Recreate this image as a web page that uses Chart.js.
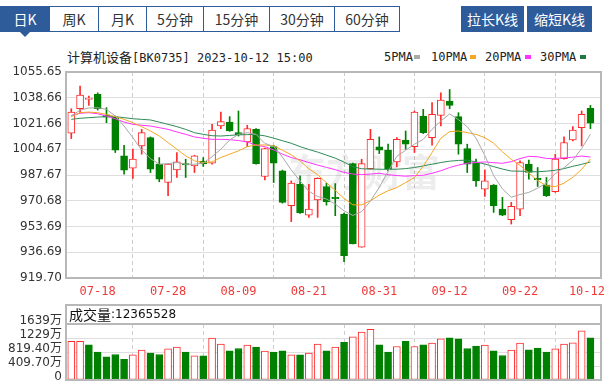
<!DOCTYPE html>
<html>
<head>
<meta charset="utf-8">
<title>计算机设备[BK0735] 日K</title>
<script src="https://cdn.jsdelivr.net/npm/chart.js@4.4.0/dist/chart.umd.min.js"></script>
<style>
  body { margin: 0; width: 607px; height: 385px; background: #fff; position: relative; overflow: hidden;
         font-family: "Noto Sans CJK SC", sans-serif; }
  .tabs { position: absolute; left: 0; top: 6px; height: 24px; display: flex; border: 1px solid #2e5b9a; }
  .tabs div { height: 24px; line-height: 24px; text-align: center; font-size: 14px; color: #333;
              border-left: 1px solid #2e5b9a; }
  .tabs div:first-child { border-left: 0; background: #2e5b9a; color: #fff; }
  .arrow { position: absolute; left: 19px; top: 31px; width: 0; height: 0;
           border-left: 6px solid transparent; border-right: 6px solid transparent; border-top: 6px solid #2e5b9a; }
  .btn { position: absolute; top: 6px; height: 26px; line-height: 26px; background: #2e5b9a; color: #fff;
         font-size: 14px; text-align: center; }
  .title { position: absolute; left: 67px; top: 49px; line-height: 16px; font-size: 13px; color: #222; white-space: nowrap; }
  .mono { font-family: "DejaVu Sans Mono", monospace; font-size: 12px; }
  .lg { position: absolute; top: 49px; line-height: 16px; color: #222; white-space: nowrap; }
  .dash { position: absolute; top: 55px; width: 6px; height: 4px; }
  canvas { position: absolute; left: 0; }
</style>
</head>
<body>
<div class="tabs">
  <div style="width:48px">日K</div>
  <div style="width:48px">周K</div>
  <div style="width:47px">月K</div>
  <div style="width:56px">5分钟</div>
  <div style="width:65px">15分钟</div>
  <div style="width:64px">30分钟</div>
  <div style="width:64px">60分钟</div>
</div>
<div class="arrow"></div>
<div class="btn" style="left:461px;width:63px">拉长K线</div>
<div class="btn" style="left:527px;width:65px">缩短K线</div>

<div class="title">计算机设备<span class="mono">[BK0735] 2023-10-12 15:00</span></div>
<span class="lg mono" style="left:384px">5PMA</span><span class="dash" style="left:414px;background:#aaaaaa"></span>
<span class="lg mono" style="left:431px">10PMA</span><span class="dash" style="left:470px;background:#f5a623"></span>
<span class="lg mono" style="left:485px">20PMA</span><span class="dash" style="left:525px;background:#ff33ff"></span>
<span class="lg mono" style="left:540px">30PMA</span><span class="dash" style="left:580px;background:#1e7a45"></span>

<canvas id="kline" width="607" height="260" style="top:40px"></canvas>
<canvas id="vol" width="607" height="85" style="top:300px"></canvas>

<script>
// 日期（交易日）
const dates = ['07-13','07-14','07-17','07-18','07-19','07-20','07-21','07-24','07-25','07-26',
  '07-27','07-28','07-31','08-01','08-02','08-03','08-04','08-07','08-08','08-09',
  '08-10','08-11','08-14','08-15','08-16','08-17','08-18','08-21','08-22','08-23',
  '08-24','08-25','08-28','08-29','08-30','08-31','09-01','09-04','09-05','09-06',
  '09-07','09-08','09-11','09-12','09-13','09-14','09-15','09-18','09-19','09-20',
  '09-21','09-22','09-25','09-26','09-27','09-28','10-09','10-10','10-11','10-12'];

// K线 开 高 低 收
const opens = [1015.2,1031.4,1037.6,1040.9,1027.3,1025.9,1000.3,992.2,1006.9,1012.3,
  994.8,982.7,991.1,995.2,993.7,996.8,995.5,1020.0,1022.6,1015.6,
  1009.5,1017.8,986.7,1006.4,990.4,967.4,981.6,961.2,971.3,980.1,
  972.9,961.9,995.2,940.0,991.9,1006.2,1004.2,996.3,1010.8,1006.4,
  1026.6,1012.3,1027.0,1036.5,1026.2,1005.1,995.9,978.4,981.0,965.2,
  958.2,965.2,994.8,985.4,981.0,976.6,998.5,1010.8,1018.9,1031.6];
const highs = [1031.4,1046.3,1039.8,1041.9,1032.1,1026.6,1007.3,1004.7,1017.8,1012.8,
  999.2,995.2,1002.5,998.1,1000.7,999.2,1021.1,1029.2,1026.2,1029.9,
  1020.5,1018.3,1005.5,1007.3,990.9,983.8,987.1,981.6,985.8,982.3,
  982.0,962.6,995.5,998.1,1017.8,1012.8,1008.0,1012.3,1016.7,1029.9,
  1031.0,1035.4,1041.9,1044.1,1028.8,1008.0,998.1,991.1,981.4,972.9,
  969.6,997.0,997.6,992.6,986.0,1001.4,1012.8,1019.6,1029.9,1033.6];
const lows = [1011.7,1028.8,1033.6,1030.5,1022.2,1002.5,988.2,985.4,1001.4,989.3,
  983.2,974.0,986.0,986.0,989.3,993.3,994.8,1018.3,1016.5,1013.4,
  1006.4,994.8,984.5,982.7,969.1,956.9,962.3,959.7,959.7,967.8,
  960.8,930.5,942.2,940.0,991.5,1001.8,990.4,993.0,1004.7,1002.5,
  1015.0,1007.3,1020.0,1031.4,1001.4,989.3,980.1,973.5,963.0,960.8,
  955.3,960.8,984.9,980.1,973.5,976.2,998.1,1010.2,1006.9,1018.3];
const closes = [1029.2,1040.4,1038.2,1031.4,1025.9,1004.0,990.9,998.1,1015.6,991.5,
  984.9,994.8,996.3,994.4,1000.3,995.0,1017.4,1022.9,1016.7,1014.1,
  1018.3,995.2,1005.1,995.5,969.6,982.3,962.6,965.2,985.4,970.0,
  972.0,934.5,942.2,995.2,1011.2,1004.0,991.5,1011.2,1008.0,1029.2,
  1015.6,1027.7,1037.1,1033.6,1008.0,994.8,983.8,983.8,967.4,961.2,
  967.0,995.9,989.3,984.5,974.0,998.1,1009.1,1017.4,1027.7,1021.8];

// 均线
const ma5 = [1026.6,1030.5,1031.9,1032.1,1031.0,1026.6,1020.0,1012.3,1004.2,998.5,
  994.8,995.2,995.9,994.8,994.8,995.5,999.8,1004.7,1010.8,1014.5,
  1015.6,1014.5,1008.5,1006.5,999.5,991.0,983.8,977.0,973.5,971.8,
  968.5,964.0,961.0,963.5,970.5,979.5,990.0,1000.0,1004.0,1008.0,
  1011.2,1017.8,1023.3,1028.0,1024.2,1019.5,1012.0,1000.5,987.3,978.5,
  973.0,974.8,976.2,979.0,982.4,988.6,992.5,997.4,1005.2,1014.6];
const ma10 = [1026.2,1028.8,1029.2,1028.8,1027.7,1026.2,1024.4,1022.2,1019.6,1016.7,
  1013.4,1009.1,1004.7,1000.3,997.0,995.9,996.3,999.2,1001.4,1003.6,
  1006.4,1007.5,1007.5,1007.0,1004.0,1001.0,997.0,991.8,987.8,982.6,
  977.5,972.2,968.0,968.0,970.7,974.4,977.3,979.4,982.7,986.0,
  993.5,1002.5,1012.0,1016.3,1016.7,1015.6,1014.5,1012.3,1008.6,1003.0,
  998.0,994.0,989.0,984.0,980.6,980.0,982.3,986.2,991.4,998.3];
const ma20 = [1027.0,1028.4,1028.8,1028.1,1026.6,1024.8,1022.6,1021.1,1020.5,1020.0,
  1018.9,1017.8,1016.1,1014.5,1012.8,1011.9,1011.2,1011.2,1011.0,1010.4,
  1009.5,1007.3,1006.4,1004.2,1001.4,999.2,997.7,995.9,994.2,992.7,
  991.2,989.4,988.3,987.9,988.3,988.8,987.9,987.3,986.9,987.3,
  987.5,988.8,990.5,992.6,994.2,995.5,995.9,996.3,995.8,995.4,
  996.5,998.5,1000.0,999.7,998.6,998.6,999.0,999.4,1000.2,999.5];
const ma30 = [1024.4,1025.1,1025.5,1025.9,1026.2,1026.2,1025.5,1024.8,1024.4,1024.0,
  1022.6,1021.1,1019.6,1017.8,1015.6,1014.5,1013.6,1013.4,1013.8,1014.2,
  1014.3,1014.4,1013.5,1012.0,1010.3,1008.6,1006.4,1004.5,1002.8,1000.8,
  998.8,996.2,993.2,991.8,991.6,991.5,991.4,991.5,991.9,992.6,
  993.7,994.8,995.9,996.8,997.3,997.5,996.3,994.9,993.2,991.6,
  990.3,990.2,989.9,989.8,990.2,990.8,991.9,993.4,994.7,996.3];

// 成交量（万），涨跌标记 1=红 0=绿
const volumes = [1128,1128,1030,814,677,746,608,736,873,785,
  746,912,961,814,706,706,1226,1050,853,922,
  1020,961,844,814,853,736,736,785,1050,853,
  961,1099,1265,1403,1481,1030,814,981,1128,981,
  1030,1079,1207,1236,1207,922,991,1020,853,716,
  873,1079,883,932,814,912,1050,1089,1442,1236.55];
const volumeUp = [1,1,0,0,0,0,0,1,1,0, 0,1,1,0,1,0,1,1,0,0,
  1,0,1,0,0,1,0,1,1,0, 1,0,1,1,1,0,0,1,0,1,
  0,1,1,0,0,0,0,1,0,0, 1,1,0,0,0,1,1,1,1,0];

const labelIdx = [3, 11, 19, 27, 35, 43, 51, 59];
const priceTicks = [919.70, 936.69, 953.69, 970.68, 987.67, 1004.67, 1021.66, 1038.66, 1055.65];
const volTicks = [0, 409.7, 819.4, 1229.1, 1638.8];
const volTickLabels = ['0', '409.70万', '819.40万', '1229万', '1639万'];
const lastVolume = '12365528';

const RED = '#ff2b2b';
const GREEN = '#008000';
const FRAME = '#b8b8b8';
const GRID = '#dedede';

const up = closes.map((c, i) => c >= opens[i]);

// 画框
function frameBox(chart) {
  const { ctx, chartArea: a } = chart;
  ctx.save();
  ctx.strokeStyle = FRAME;
  ctx.lineWidth = 2;
  ctx.strokeRect(a.left, a.top, a.right - a.left, a.bottom - a.top);
  ctx.restore();
}

const xScale = (h) => ({
  type: 'linear',
  min: -0.6,
  max: 60.2,
  offset: false,
  afterBuildTicks: s => { s.ticks = labelIdx.map(v => ({ value: v })); },
  afterFit: s => { s.height = h; s.paddingLeft = 0; s.paddingRight = 0; },
  ticks: { display: false },
  grid: { color: '#cccccc', drawTicks: false },
  border: { display: false, dash: [4, 3] }
});

// K线图
new Chart(document.getElementById('kline'), {
  type: 'bar',
  data: {
    datasets: [
      {
        label: 'body',
        order: 1,
        grouped: false,
        data: opens.map((o, i) => ({ x: i, y: [Math.min(o, closes[i]), Math.max(o, closes[i])] })),
        backgroundColor: up.map(u => u ? '#ffffff' : GREEN),
        borderColor: up.map(u => u ? RED : GREEN),
        borderWidth: 1,
        borderSkipped: false,
        barThickness: 7,
        minBarLength: 1
      },
      {
        label: 'wick',
        order: 2,
        grouped: false,
        data: lows.map((l, i) => ({ x: i, y: [l, highs[i]] })),
        backgroundColor: up.map(u => u ? RED : GREEN),
        borderWidth: 0,
        barThickness: 1
      },
      { type: 'line', label: '5PMA', order: 0, data: ma5.map((v, i) => ({ x: i, y: v })),
        borderColor: '#a8a8a8', borderWidth: 1, pointRadius: 0 },
      { type: 'line', label: '10PMA', order: 0, data: ma10.map((v, i) => ({ x: i, y: v })),
        borderColor: '#f5a623', borderWidth: 1, pointRadius: 0 },
      { type: 'line', label: '20PMA', order: 0, data: ma20.map((v, i) => ({ x: i, y: v })),
        borderColor: '#ff33ff', borderWidth: 1, pointRadius: 0 },
      { type: 'line', label: '30PMA', order: 0, data: ma30.map((v, i) => ({ x: i, y: v })),
        borderColor: '#2e8b57', borderWidth: 1, pointRadius: 0 }
    ]
  },
  options: {
    responsive: false,
    animation: false,
    events: [],
    layout: { padding: { top: 32, right: 6, left: 0, bottom: 0 } },
    plugins: { legend: { display: false }, tooltip: { enabled: false } },
    scales: {
      x: xScale(22),
      y: {
        min: 919.70,
        max: 1055.65,
        afterBuildTicks: s => { s.ticks = priceTicks.map(v => ({ value: v })); },
        afterFit: s => { s.width = 66; s.paddingTop = 0; s.paddingBottom = 0; },
        ticks: {
          autoSkip: false,
          padding: 4,
          color: '#333',
          font: { family: 'DejaVu Sans', size: 12 },
          callback: v => v.toFixed(2)
        },
        grid: { color: GRID, drawTicks: false },
        border: { display: false }
      }
    }
  },
  plugins: [{
    id: 'deco',
    beforeDatasetsDraw(chart) {
      // 水印
      const ctx = chart.ctx;
      ctx.save();
      ctx.fillStyle = 'rgba(0,0,0,0.07)';
      ctx.font = 'bold 38px "Noto Sans CJK SC"';
      ctx.textBaseline = 'middle';
      ctx.fillText('东方财富', 288, 132);
      ctx.restore();
    },
    afterDraw(chart) {
      frameBox(chart);
      const ctx = chart.ctx;
      const sx = chart.scales.x;
      ctx.save();
      ctx.font = '12px "DejaVu Sans Mono"';
      ctx.fillStyle = '#f03a3a';
      ctx.textAlign = 'center';
      ctx.textBaseline = 'middle';
      labelIdx.forEach(i => {
        const w = ctx.measureText(dates[i]).width;
        const px = Math.min(sx.getPixelForValue(i), 605 - w / 2);
        ctx.fillText(dates[i], px, chart.chartArea.bottom + 14);
      });
      ctx.restore();
    }
  }]
});

// 成交量图
new Chart(document.getElementById('vol'), {
  type: 'bar',
  data: {
    datasets: [{
      label: '成交量',
      data: volumes.map((v, i) => ({ x: i, y: v })),
      backgroundColor: volumeUp.map(u => u ? '#ffffff' : GREEN),
      borderColor: volumeUp.map(u => u ? RED : GREEN),
      borderWidth: 1,
      borderSkipped: false,
      barThickness: 7
    }]
  },
  options: {
    responsive: false,
    animation: false,
    events: [],
    layout: { padding: { top: 24, right: 6, left: 0, bottom: 0 } },
    plugins: { legend: { display: false }, tooltip: { enabled: false } },
    scales: {
      x: xScale(5),
      y: {
        min: 0,
        max: 1638.8,
        afterBuildTicks: s => { s.ticks = volTicks.map(v => ({ value: v })); },
        afterFit: s => { s.width = 66; s.paddingTop = 0; s.paddingBottom = 0; },
        ticks: { display: false },
        grid: { color: GRID, drawTicks: false },
        border: { display: false }
      }
    }
  },
  plugins: [{
    id: 'volHead',
    afterDraw(chart) {
      frameBox(chart);
      const { ctx, chartArea: a } = chart;
      const sy = chart.scales.y;
      ctx.save();
      ctx.strokeStyle = FRAME;
      ctx.lineWidth = 2;
      ctx.strokeRect(a.left, 5, a.right - a.left, a.top - 5);
      ctx.fillStyle = '#111';
      ctx.textBaseline = 'middle';
      ctx.font = '14px "Noto Sans CJK SC"';
      ctx.fillText('成交量', a.left + 3, 15);
      const w = ctx.measureText('成交量').width;
      ctx.font = '12px "DejaVu Sans"';
      ctx.fillText(':' + lastVolume, a.left + 3 + w, 15);
      // 纵轴刻度文字
      ctx.fillStyle = '#333';
      ctx.textAlign = 'right';
      ctx.font = '12px "DejaVu Sans", "Noto Sans CJK SC"';
      volTicks.forEach((v, i) => {
        ctx.fillText(volTickLabels[i], a.left - 4, sy.getPixelForValue(v) - 3);
      });
      ctx.restore();
    }
  }]
});
</script>
</body>
</html>
